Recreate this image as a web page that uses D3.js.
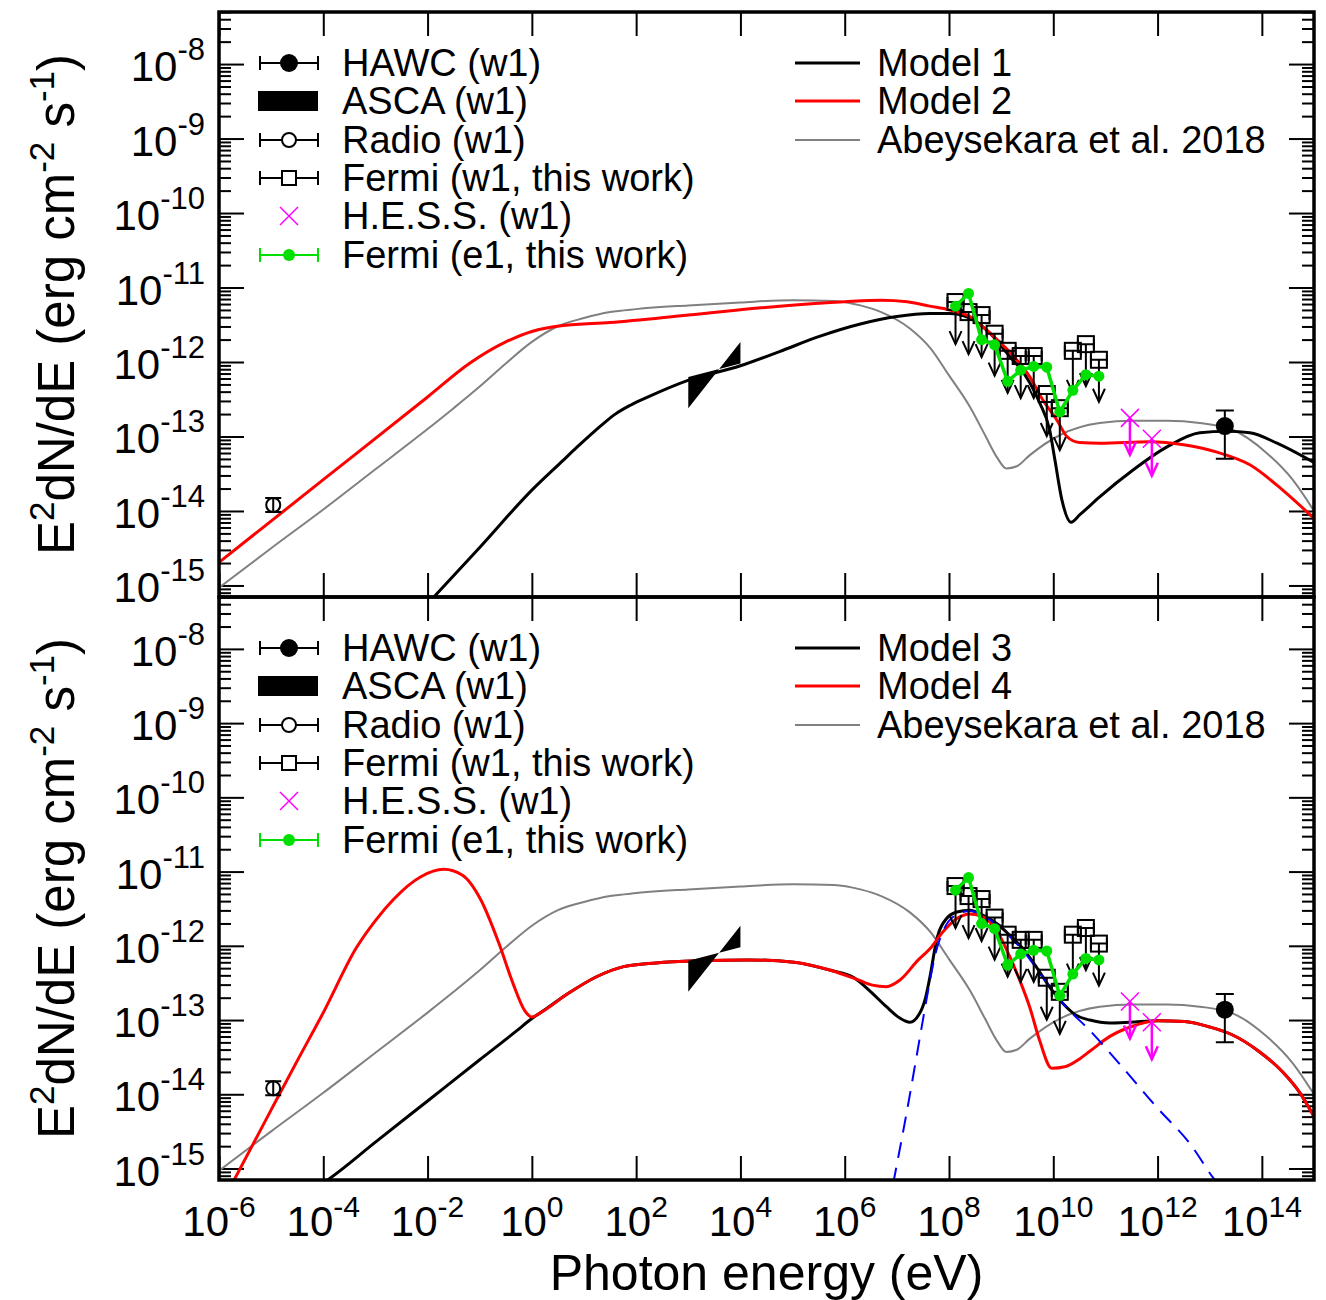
<!DOCTYPE html>
<html>
<head>
<meta charset="utf-8">
<script src="https://cdn.jsdelivr.net/npm/d3@7"></script>
<style>
  body { margin: 0; background: #fff; }
  text { font-family: "Liberation Sans", Arial, sans-serif; fill: #000; }
</style>
</head>
<body>
<script>
// All values are [log10 E (eV), log10 E^2dN/dE (erg cm^-2 s^-1)]
const abeysekara = [[-6,-15.03],[-5,-14.5],[-4,-13.98],[-3,-13.44],[-2,-12.9],[-1.5,-12.62],[-1,-12.33],[-0.5,-12.02],[0,-11.73],[0.5,-11.52],[1,-11.41],[1.5,-11.33],[2,-11.29],[3,-11.24],[4,-11.2],[5,-11.17],[5.8,-11.18],[6.3,-11.24],[6.7,-11.33],[7.25,-11.55],[7.65,-11.82],[8.0,-12.18],[8.4,-12.6],[8.69,-12.98],[8.92,-13.28],[9.1,-13.43],[9.3,-13.4],[9.55,-13.25],[10.13,-12.98],[10.89,-12.82],[11.53,-12.79],[12.18,-12.79],[12.81,-12.82],[13.44,-12.91],[14.09,-13.22],[14.59,-13.58],[15,-14.0]];

const model1 = [[-2.1,-15.32],[-1.88,-15.155],[-1,-14.49],[0,-13.72],[0.6,-13.32],[0.87,-13.14],[1.2,-12.93],[1.4,-12.81],[1.6,-12.7],[1.89,-12.58],[2.24,-12.465],[2.98,-12.25],[4,-12.05],[4.75,-11.86],[5.5,-11.66],[6.3,-11.49],[7.0,-11.39],[7.63,-11.35],[8.0,-11.35],[8.4,-11.41],[8.78,-11.61],[9.17,-11.93],[9.36,-12.08],[9.55,-12.28],[9.74,-12.55],[9.93,-12.91],[10.03,-13.31],[10.165,-13.85],[10.34,-14.15],[10.51,-14.05],[10.89,-13.81],[11.53,-13.45],[12.18,-13.14],[12.81,-12.95],[13.33,-12.93],[13.77,-12.95],[14.29,-13.09],[15,-13.35]];

const model2 = [[-6,-14.69],[-4,-13.58],[-2,-12.47],[-1.2,-12.02],[-0.5,-11.73],[0,-11.59],[0.6,-11.51],[1.5,-11.47],[3,-11.37],[4.75,-11.25],[6,-11.19],[6.7,-11.17],[7.2,-11.19],[7.63,-11.25],[8.0,-11.3],[8.4,-11.39],[8.78,-11.61],[9.17,-11.87],[9.55,-12.2],[9.8,-12.51],[10.07,-12.78],[10.26,-13.0],[10.5,-13.08],[10.9,-13.09],[11.85,-13.07],[12.5,-13.11],[13.14,-13.21],[13.77,-13.38],[14.4,-13.72],[15,-14.1]];

const model3 = [[-4.1,-15.24],[-3.89,-15.14],[-3,-14.645],[-2,-14.09],[-1,-13.535],[-0.3,-13.15],[0,-12.98],[0.17,-12.9],[0.7,-12.64],[1.23,-12.42],[1.76,-12.28],[2.38,-12.23],[3.26,-12.2],[4.14,-12.19],[5.03,-12.22],[5.73,-12.33],[6.18,-12.43],[6.5,-12.62],[6.8,-12.82],[7.05,-12.97],[7.25,-13.03],[7.42,-12.93],[7.55,-12.7],[7.634,-12.42],[7.76,-11.93],[7.95,-11.635],[8.15,-11.545],[8.4,-11.52],[8.656,-11.59],[8.913,-11.7],[9.168,-11.86],[9.42,-12.04],[9.68,-12.29],[9.935,-12.56],[10.19,-12.78],[10.447,-12.94],[10.7,-13.0],[11.085,-13.04],[11.47,-13.03],[12.0,-13.01],[12.52,-13.02],[12.98,-13.09],[13.42,-13.195],[13.94,-13.42],[14.4,-13.7],[14.73,-13.98],[15,-14.3]];

const model4 = [[-5.85,-15.34],[-5.71,-15.155],[-5,-14.21],[-4.5,-13.55],[-4,-12.9],[-3.36,-12.02],[-3,-11.66],[-2.66,-11.38],[-2.13,-11.07],[-1.69,-10.97],[-1.33,-11.05],[-0.98,-11.38],[-0.63,-11.97],[-0.36,-12.51],[-0.14,-12.87],[0,-12.96],[0.17,-12.9],[0.7,-12.64],[1.23,-12.42],[1.76,-12.28],[2.38,-12.23],[3.26,-12.2],[4.14,-12.19],[5.03,-12.22],[5.73,-12.33],[6.26,-12.46],[6.53,-12.53],[6.8,-12.55],[7.06,-12.46],[7.41,-12.19],[7.634,-12.04],[7.88,-11.815],[8.146,-11.635],[8.4,-11.57],[8.656,-11.613],[8.913,-11.79],[9.168,-12.15],[9.36,-12.47],[9.55,-12.83],[9.74,-13.28],[9.97,-13.65],[10.22,-13.63],[10.51,-13.52],[10.7,-13.42],[11.085,-13.22],[11.49,-13.09],[12.0,-13.01],[12.52,-13.02],[12.98,-13.09],[13.42,-13.195],[13.94,-13.42],[14.4,-13.7],[14.73,-13.98],[15,-14.3]];

// pion decay part of model 3 (blue dashed)
const model3Pion = [[6.93,-15.2],[7.2,-14.2],[7.45,-13.2],[7.6,-12.6],[7.75,-12.08],[7.9,-11.78],[8.1,-11.6],[8.4,-11.53],[8.9,-11.71],[9.4,-12.05],[9.9,-12.52],[10.2,-12.79],[10.7,-13.14],[11.33,-13.64],[11.99,-14.18],[12.62,-14.665],[13.06,-15.12],[13.2,-15.25]];

// data points
const hawcE = [13.29], hawcF = [-12.86], hawcHi = [-12.65], hawcLo = [-13.30];
const radioE = [-4.96], radioF = [-13.92];
const ascaE = [3.0, 4.0], ascaSoft = [-12.2, -12.02], ascaHard = [-12.62, -11.73];
const fermiE = [8.125, 8.375, 8.625, 8.875, 9.125, 9.375, 9.625, 9.875, 10.125, 10.375, 10.625, 10.875];
const fermiW1UL = [-11.195, -11.33, -11.37, -11.62, -11.85, -11.92, -11.92, -12.43, -12.62, -11.85, -11.76, -11.97];
const fermiE1F = [-11.25, -11.08, -11.7, -11.77, -12.26, -12.11, -12.06, -12.07, -12.67, -12.38, -12.17, -12.19];
const hessE = [11.47, 11.89], hessUL = [-12.75, -13.03];

// tick labels (exponents)
const xTickExp = [-6, -4, -2, 0, 2, 4, 6, 8, 10, 12, 14];
const yTickExp = [-8, -9, -10, -11, -12, -13, -14, -15];

const legendData = ['HAWC (w1)', 'ASCA (w1)', 'Radio (w1)', 'Fermi (w1, this work)', 'H.E.S.S. (w1)', 'Fermi (e1, this work)'];
const modelNames = [['Model 1', 'Model 2', 'Abeysekara et al. 2018'], ['Model 3', 'Model 4', 'Abeysekara et al. 2018']];

const green = '#00e000', magenta = '#ff00ff';

const svg = d3.select('body').append('svg').attr('width', 1326).attr('height', 1300);

const left = 219, width = 1095;
const panels = [{ top: 12, height: 585 }, { top: 597, height: 583 }];

const x = d3.scaleLog().domain([1e-6, 1e15]).range([0, width]);
const p = (v) => Math.pow(10, v);

// minor log ticks inside the domain
function minorTicks(lo, hi) {
    const v = [];
    for (let k = Math.floor(Math.log10(lo)); k < Math.ceil(Math.log10(hi)); k++)
        for (let m = 2; m <= 9; m++) { const t = m * Math.pow(10, k); if (t >= lo && t <= hi) v.push(t); }
    return v;
}

function arrowDown(g, cx, cy, len, color, w) {
    g.append('line').attr('x1', cx).attr('x2', cx).attr('y1', cy).attr('y2', cy + len)
        .attr('stroke', color).attr('stroke-width', w);
    g.append('path').attr('d', `M${cx - 6},${cy + len - 13}L${cx},${cy + len}L${cx + 6},${cy + len - 13}`)
        .attr('fill', 'none').attr('stroke', color).attr('stroke-width', w);
}

panels.forEach((pan, i) => {
    const y = d3.scaleLog().domain([7e-16, 5e-8]).range([pan.height, 0]);
    const g = svg.append('g').attr('transform', `translate(${left},${pan.top})`);

    // clip for model curves
    g.append('clipPath').attr('id', 'clip' + i).append('rect').attr('width', width).attr('height', pan.height);

    // axes with inward ticks
    const yMaj = yTickExp.map(p), yMin = minorTicks(7e-16, 5e-8), xMaj = xTickExp.map(p);
    const clean = (s) => s.call((a) => a.select('.domain').remove()).selectAll('line').attr('stroke-width', 2);
    g.append('g').call(d3.axisLeft(y).tickValues(yMin).tickSize(-12).tickFormat('')).call(clean);
    g.append('g').call(d3.axisLeft(y).tickValues(yMaj).tickSize(-25).tickFormat('')).call(clean);
    g.append('g').attr('transform', `translate(${width},0)`).call(d3.axisRight(y).tickValues(yMin).tickSize(-12).tickFormat('')).call(clean);
    g.append('g').attr('transform', `translate(${width},0)`).call(d3.axisRight(y).tickValues(yMaj).tickSize(-25).tickFormat('')).call(clean);
    g.append('g').call(d3.axisTop(x).tickValues(xMaj).tickSize(-24).tickFormat('')).call(clean);
    g.append('g').attr('transform', `translate(0,${pan.height})`).call(d3.axisBottom(x).tickValues(xMaj).tickSize(-24).tickFormat('')).call(clean);

    // y tick labels 10^n
    yTickExp.forEach((e) => {
        const t = g.append('text').attr('x', -14).attr('y', y(p(e)) + 17).attr('text-anchor', 'end').attr('font-size', 42).text('10');
        t.append('tspan').attr('dy', -21).attr('font-size', 31).text(e);
    });

    // y axis title
    const yt = g.append('text').attr('transform', `translate(${74 - left},${pan.height / 2}) rotate(-90)`)
        .attr('text-anchor', 'middle').attr('font-size', 51);
    yt.append('tspan').text('E');
    yt.append('tspan').attr('dy', -20).attr('font-size', 35).text('2');
    yt.append('tspan').attr('dy', 20).text('dN/dE (erg cm');
    yt.append('tspan').attr('dy', -20).attr('font-size', 35).text('-2');
    yt.append('tspan').attr('dy', 20).text(' s');
    yt.append('tspan').attr('dy', -20).attr('font-size', 35).text('-1');
    yt.append('tspan').attr('dy', 20).text(')');

    // model curves
    const line = d3.line().x((d) => x(p(d[0]))).y((d) => y(p(d[1]))).curve(d3.curveMonotoneX);
    const curves = g.append('g').attr('clip-path', `url(#clip${i})`);
    const models = i === 0 ? [model1, model2] : [model3, model4];
    curves.append('path').attr('d', line(abeysekara)).attr('fill', 'none').attr('stroke', '#808080').attr('stroke-width', 2);
    curves.append('path').attr('d', line(models[0])).attr('fill', 'none').attr('stroke', '#000').attr('stroke-width', 3);
    curves.append('path').attr('d', line(models[1])).attr('fill', 'none').attr('stroke', '#f00').attr('stroke-width', 3);
    if (i === 1)
        curves.append('path').attr('d', line(model3Pion)).attr('fill', 'none').attr('stroke', '#0000ff')
            .attr('stroke-width', 2).attr('stroke-dasharray', '16,10');

    // ASCA bowtie
    g.append('path').attr('d', `M${x(p(ascaE[0]))},${y(p(ascaSoft[0]))}L${x(p(ascaE[1]))},${y(p(ascaSoft[1]))}` +
        `L${x(p(ascaE[1]))},${y(p(ascaHard[1]))}L${x(p(ascaE[0]))},${y(p(ascaHard[0]))}Z`).attr('fill', '#000');

    // Radio
    radioE.forEach((e, k) => {
        const cx = x(p(e)), cy = y(p(radioF[k]));
        g.append('circle').attr('cx', cx).attr('cy', cy).attr('r', 7).attr('fill', '#fff').attr('stroke', '#000').attr('stroke-width', 2);
        g.append('path').attr('d', `M${cx},${cy - 7}V${cy + 7}M${cx - 8},${cy - 7}H${cx + 8}M${cx - 8},${cy + 7}H${cx + 8}`)
            .attr('stroke', '#000').attr('stroke-width', 2);
    });

    // Fermi w1 upper limits
    fermiE.forEach((e, k) => {
        const cx = x(p(e)), cy = y(p(fermiW1UL[k]));
        arrowDown(g, cx, cy, 42, '#000', 2);
        g.append('path').attr('d', `M${cx - 8},${cy}H${cx + 8}M${cx - 8},${cy - 5}V${cy + 5}M${cx + 8},${cy - 5}V${cy + 5}`)
            .attr('stroke', '#000').attr('stroke-width', 2);
        g.append('rect').attr('x', cx - 8).attr('y', cy - 8).attr('width', 16).attr('height', 16)
            .attr('fill', 'none').attr('stroke', '#000').attr('stroke-width', 2);
    });

    // Fermi e1
    const ptLine = d3.line().x((d, k) => x(p(fermiE[k]))).y((d) => y(p(d)));
    g.append('path').attr('d', ptLine(fermiE1F)).attr('fill', 'none').attr('stroke', green).attr('stroke-width', 3.5);
    g.selectAll('.e1').data(fermiE1F).join('circle').attr('cx', (d, k) => x(p(fermiE[k]))).attr('cy', (d) => y(p(d)))
        .attr('r', 5.5).attr('fill', green);

    // H.E.S.S. upper limits
    hessE.forEach((e, k) => {
        const cx = x(p(e)), cy = y(p(hessUL[k]));
        g.append('path').attr('d', `M${cx - 9},${cy - 9}L${cx + 9},${cy + 9}M${cx - 9},${cy + 9}L${cx + 9},${cy - 9}`)
            .attr('stroke', magenta).attr('stroke-width', 1.5);
        arrowDown(g, cx, cy, 37, magenta, 2.5);
    });

    // HAWC
    hawcE.forEach((e, k) => {
        const cx = x(p(e));
        g.append('path').attr('d', `M${cx},${y(p(hawcHi[k]))}V${y(p(hawcLo[k]))}M${cx - 9},${y(p(hawcHi[k]))}H${cx + 9}M${cx - 9},${y(p(hawcLo[k]))}H${cx + 9}`)
            .attr('stroke', '#000').attr('stroke-width', 2);
        g.append('circle').attr('cx', cx).attr('cy', y(p(hawcF[k]))).attr('r', 9).attr('fill', '#000');
    });

    // frame
    g.append('rect').attr('width', width).attr('height', pan.height).attr('fill', 'none').attr('stroke', '#000').attr('stroke-width', 3.5);

    // legend, data points
    const lg = svg.append('g').attr('transform', `translate(0,${pan.top})`);
    const rows = [51, 89, 128, 166, 204, 243];
    rows.forEach((ry, k) => {
        const col = k === 5 ? green : '#000';
        if (k !== 1 && k !== 4)
            lg.append('path').attr('d', `M260,${ry}H318M260,${ry - 7}V${ry + 7}M318,${ry - 7}V${ry + 7}`)
                .attr('stroke', col).attr('stroke-width', 2);
        if (k === 0) lg.append('circle').attr('cx', 289).attr('cy', ry).attr('r', 9).attr('fill', '#000');
        if (k === 1) lg.append('rect').attr('x', 258).attr('y', ry - 10).attr('width', 60).attr('height', 20).attr('fill', '#000');
        if (k === 2) lg.append('circle').attr('cx', 289).attr('cy', ry).attr('r', 7).attr('fill', '#fff').attr('stroke', '#000').attr('stroke-width', 2);
        if (k === 3) lg.append('rect').attr('x', 282).attr('y', ry - 7).attr('width', 14).attr('height', 14).attr('fill', '#fff').attr('stroke', '#000').attr('stroke-width', 2);
        if (k === 4) lg.append('path').attr('d', `M280,${ry - 9}L298,${ry + 9}M280,${ry + 9}L298,${ry - 9}`).attr('stroke', magenta).attr('stroke-width', 1.5);
        if (k === 5) lg.append('circle').attr('cx', 289).attr('cy', ry).attr('r', 6).attr('fill', green);
        lg.append('text').attr('x', 342).attr('y', ry + 13).attr('font-size', 38).text(legendData[k]);
    });

    // legend, models
    const mcol = ['#000', '#f00', '#808080'], mw = [3, 3, 2];
    modelNames[i].forEach((name, k) => {
        lg.append('line').attr('x1', 795).attr('x2', 860).attr('y1', rows[k]).attr('y2', rows[k])
            .attr('stroke', mcol[k]).attr('stroke-width', mw[k]);
        lg.append('text').attr('x', 877).attr('y', rows[k] + 13).attr('font-size', 38).text(name);
    });

    // x tick labels under the lower panel
    if (i === 1) {
        xTickExp.forEach((e) => {
            const t = g.append('text').attr('x', x(p(e))).attr('y', pan.height + 56).attr('text-anchor', 'middle').attr('font-size', 42).text('10');
            t.append('tspan').attr('dy', -19).attr('font-size', 30).text(e);
        });
        g.append('text').attr('x', width / 2).attr('y', pan.height + 110).attr('text-anchor', 'middle')
            .attr('font-size', 50).text('Photon energy (eV)');
    }
});
</script>
</body>
</html>
